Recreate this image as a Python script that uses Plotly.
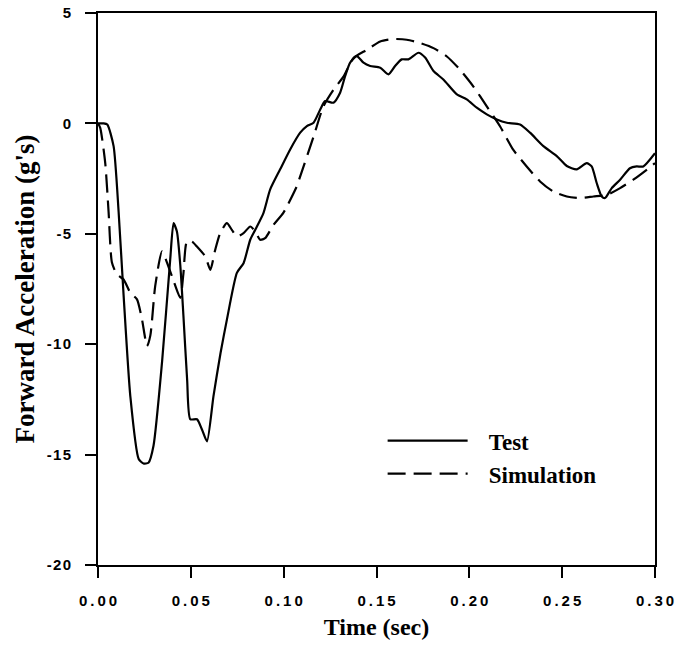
import plotly.graph_objects as go

# ---- data ----
test_t = [0.000, 0.003, 0.005, 0.0084, 0.0111, 0.0138, 0.0174, 0.0219, 0.0245, 0.0272,
          0.0299, 0.0345, 0.0389, 0.0407, 0.0425, 0.0443, 0.0460, 0.0480, 0.0497, 0.0533,
          0.0560, 0.0587, 0.0622, 0.0660, 0.0694, 0.0748, 0.0784, 0.0820, 0.0847, 0.0891,
          0.0927, 0.0981, 0.1035, 0.1089, 0.1125, 0.1161, 0.1197, 0.1223, 0.1268, 0.1304,
          0.1331, 0.1358, 0.1394, 0.1430, 0.1466, 0.1520, 0.1564, 0.1600, 0.1636, 0.1672,
          0.1726, 0.1762, 0.1807, 0.1860, 0.1933, 0.1986, 0.2040, 0.2094, 0.2148, 0.2202,
          0.2273, 0.2327, 0.2399, 0.2471, 0.2525, 0.2578, 0.2632, 0.2659, 0.2686, 0.2713,
          0.2731, 0.2767, 0.2812, 0.2865, 0.2901, 0.2937, 0.3000]
test_g = [0.00, 0.00, -0.05, -1.03, -4.0, -7.8, -12.35, -15.2, -15.4, -15.37,
          -14.6, -10.8, -6.16, -4.52, -4.9, -6.4, -8.7, -11.6, -13.4, -13.4,
          -13.86, -14.4, -12.35, -10.4, -8.9, -6.77, -6.33, -5.27, -4.82, -4.06,
          -3.0, -2.08, -1.18, -0.42, -0.12, 0.03, 0.63, 1.01, 0.94, 1.39,
          2.14, 2.75, 3.05, 2.75, 2.6, 2.52, 2.22, 2.6, 2.9, 2.9,
          3.2, 2.98, 2.37, 1.99, 1.31, 1.09, 0.71, 0.41, 0.18, 0.03,
          -0.05, -0.42, -1.03, -1.48, -1.93, -2.08, -1.8, -1.95, -2.7, -3.31,
          -3.38, -2.93, -2.55, -2.03, -1.95, -1.95, -1.35]

sim_t = [0.000, 0.0012, 0.0039, 0.0057, 0.0075, 0.0102, 0.0138, 0.0174, 0.0210, 0.0237,
         0.0264, 0.0282, 0.0308, 0.0345, 0.0380, 0.0410, 0.0443, 0.0460, 0.0479, 0.0506,
         0.0533, 0.0578, 0.0605, 0.0631, 0.0658, 0.0694, 0.0721, 0.0748, 0.0784, 0.0820,
         0.0847, 0.0874, 0.0900, 0.0945, 0.0999, 0.1071, 0.1089, 0.1161, 0.1214, 0.1268,
         0.1322, 0.1376, 0.1448, 0.1520, 0.1591, 0.1663, 0.1735, 0.1807, 0.1879, 0.1950,
         0.2022, 0.2094, 0.2166, 0.2237, 0.2309, 0.2381, 0.2453, 0.2525, 0.2596, 0.2668,
         0.2740, 0.2812, 0.2883, 0.2955, 0.3000]
sim_g = [0.00, -0.2, -1.8, -4.0, -6.3, -6.84, -7.07, -7.67, -7.97, -8.88,
         -10.08, -9.6, -7.37, -5.8, -6.5, -7.2, -7.9, -6.8, -5.35, -5.35,
         -5.58, -6.03, -6.63, -5.73, -4.97, -4.52, -4.82, -5.12, -4.97, -4.67,
         -4.9, -5.27, -5.2, -4.6, -4.04, -2.84, -2.4, -0.6, 0.77, 1.52,
         2.12, 2.96, 3.33, 3.71, 3.82, 3.79, 3.64, 3.41, 3.03, 2.43,
         1.67, 0.77, -0.14, -1.2, -1.95, -2.63, -3.09, -3.31, -3.38, -3.31,
         -3.24, -2.93, -2.55, -2.1, -1.8]

x_ticks = [0.00, 0.05, 0.10, 0.15, 0.20, 0.25, 0.30]
x_tick_labels = ["0.00", "0.05", "0.10", "0.15", "0.20", "0.25", "0.30"]
y_ticks = [-20, -15, -10, -5, 0, 5]
y_tick_labels = ["-20", "-15", "-10", "-5", "0", "5"]
series_names = ["Test", "Simulation"]

x_spaced = ["\u2009".join(list(s)) for s in x_tick_labels]
y_spaced = ["\u200a".join(list(s)) for s in y_tick_labels]
legend_names = ["\u2002\u2009" + n for n in series_names]

fig = go.Figure()
fig.add_trace(go.Scatter(x=test_t, y=test_g, mode="lines", name=legend_names[0],
                         line=dict(color="black", width=2.2, shape="spline", smoothing=0.6)))
fig.add_trace(go.Scatter(x=sim_t, y=sim_g, mode="lines", name=legend_names[1],
                         line=dict(color="black", width=2.2, dash="18px,8px",
                                   shape="spline", smoothing=0.6)))

serif = "Liberation Serif, Times New Roman, serif"
tick_font = dict(family="Liberation Sans, Arial, sans-serif", size=15, color="black",
                 weight="bold")

fig.update_layout(
    width=676, height=654,
    margin=dict(l=98, r=21, t=13, b=89),
    paper_bgcolor="white", plot_bgcolor="white",
    showlegend=True,
    legend=dict(x=0.511, y=0.264, xanchor="left", yanchor="top",
                bgcolor="rgba(0,0,0,0)", itemwidth=80,
                font=dict(family=serif, size=23, color="black", weight="bold"),
                tracegroupgap=0),
    xaxis=dict(range=[0, 0.30], tickvals=x_ticks, ticktext=x_spaced,
               automargin=False,
               showgrid=False, zeroline=False, showline=True, linecolor="black",
               linewidth=2, mirror=True, ticks="outside", ticklen=11,
               tickwidth=2, tickcolor="black", ticklabelstandoff=10,
               tickfont=tick_font,
               title=dict(text="<b>Time (sec)</b>", font=dict(family=serif, size=24,
                                                              color="black"),
                          standoff=10)),
    yaxis=dict(range=[-20, 5], tickvals=y_ticks, ticktext=y_spaced,
               automargin=False,
               showgrid=False, zeroline=False, showline=True, linecolor="black",
               linewidth=2, mirror=True, ticks="outside", ticklen=11,
               tickwidth=2, tickcolor="black", ticklabelstandoff=11,
               tickfont=tick_font,
               title=dict(text="<b>Forward Acceleration (g's)</b>",
                          font=dict(family=serif, size=27, color="black"),
                          standoff=4)),
)

fig.write_html("out.html")
